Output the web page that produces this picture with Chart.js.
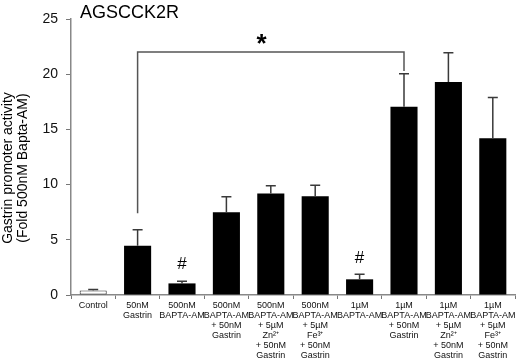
<!DOCTYPE html>
<html>
<head>
<meta charset="utf-8">
<script src="https://cdn.jsdelivr.net/npm/chart.js@4"></script>
<style>
html,body{margin:0;padding:0;background:#fff;}
#wrap{width:520px;height:361px;}
</style>
</head>
<body>
<div id="wrap"><canvas id="c" width="520" height="361"></canvas></div>
<script>
const categories = [
  ['Control'],
  ['50nM','Gastrin'],
  ['500nM','BAPTA-AM'],
  ['500nM','BAPTA-AM','+ 50nM','Gastrin'],
  ['500nM','BAPTA-AM','+ 5\u00b5M','Zn\u00b2\u207a','+ 50nM','Gastrin'],
  ['500nM','BAPTA-AM','+ 5\u00b5M','Fe\u00b3\u207a','+ 50nM','Gastrin'],
  ['1\u00b5M','BAPTA-AM'],
  ['1\u00b5M','BAPTA-AM','+ 50nM','Gastrin'],
  ['1\u00b5M','BAPTA-AM','+ 5\u00b5M','Zn\u00b2\u207a','+ 50nM','Gastrin'],
  ['1\u00b5M','BAPTA-AM','+ 5\u00b5M','Fe\u00b3\u207a','+ 50nM','Gastrin']
];
const means  = [0.4, 4.47, 1.05, 7.5, 9.2, 8.95, 1.42, 17.05, 19.3, 14.2];
const errors = [0.1, 1.43, 0.2, 1.4, 0.7, 1.0, 0.45, 3.0, 2.65, 3.7];
const yTicks = [0, 5, 10, 15, 20, 25];
const hashMarks = [{index: 2, value: 2.8}, {index: 6, value: 3.35}];
const bracket = {from: 1, to: 7, level: 22, leftEnd: 7.4, rightEnd: 20.3, starValue: 22.8};
const chartTitle = 'AGSCCK2R';
const yTitle = ['Gastrin promoter activity', '(Fold 500nM Bapta-AM)'];

const FONT = 'Liberation Sans, Arial, sans-serif';

const overlay = {
  id: 'overlay',
  afterDatasetsDraw(chart) {
    const ctx = chart.ctx;
    const y = chart.scales.y;
    const meta = chart.getDatasetMeta(0);
    ctx.save();
    // error bars
    ctx.strokeStyle = '#3a3a3a';
    ctx.lineWidth = 1.5;
    means.forEach((m, i) => {
      const cx = meta.data[i].x;
      const b = y.getPixelForValue(m);
      const t = y.getPixelForValue(m + errors[i]);
      ctx.beginPath();
      ctx.moveTo(cx, b); ctx.lineTo(cx, t);
      ctx.moveTo(cx - 5, t); ctx.lineTo(cx + 5, t);
      ctx.stroke();
    });
    // bracket
    const x1 = meta.data[bracket.from].x, x2 = meta.data[bracket.to].x;
    const yl = y.getPixelForValue(bracket.level);
    ctx.strokeStyle = '#555';
    ctx.lineWidth = 1.5;
    ctx.beginPath();
    ctx.moveTo(x1, y.getPixelForValue(bracket.leftEnd));
    ctx.lineTo(x1, yl);
    ctx.lineTo(x2, yl);
    ctx.lineTo(x2, y.getPixelForValue(bracket.rightEnd));
    ctx.stroke();
    // asterisk
    ctx.fillStyle = '#000';
    ctx.font = 'bold 26px ' + FONT;
    ctx.textAlign = 'center';
    ctx.textBaseline = 'middle';
    ctx.fillText('*', x1 + (x2 - x1) * 0.465, y.getPixelForValue(bracket.starValue) + 2);
    // hash marks
    ctx.font = '17px ' + FONT;
    hashMarks.forEach(h => {
      ctx.fillText('#', meta.data[h.index].x, y.getPixelForValue(h.value));
    });
    // title
    ctx.font = '18px ' + FONT;
    ctx.textAlign = 'left';
    ctx.textBaseline = 'alphabetic';
    ctx.fillText(chartTitle, 80, 18);
    // y title
    ctx.font = '14px ' + FONT;
    ctx.textAlign = 'center';
    ctx.textBaseline = 'middle';
    ctx.translate(8, 168);
    ctx.rotate(-Math.PI / 2);
    ctx.fillText(yTitle[0], 0, 0);
    ctx.fillText(yTitle[1], 0, 15);
    ctx.restore();
  }
};

new Chart(document.getElementById('c'), {
  type: 'bar',
  data: {
    labels: categories,
    datasets: [{
      data: means,
      backgroundColor: means.map((v, i) => i === 0 ? '#ffffff' : '#000000'),
      borderColor: '#333',
      borderWidth: means.map((v, i) => i === 0 ? 1 : 0),
      borderSkipped: false,
      barPercentage: 0.61,
      categoryPercentage: 1.0
    }]
  },
  options: {
    responsive: false,
    animation: false,
    devicePixelRatio: 1,
    layout: {padding: {top: 19, right: 5, left: 0, bottom: 0}},
    plugins: {legend: {display: false}, tooltip: {enabled: false}, title: {display: false}},
    scales: {
      x: {
        grid: {display: true, drawOnChartArea: false, drawTicks: true, tickLength: 4, color: '#777', lineWidth: 1},
        border: {display: true, color: '#888', width: 1.5},
        ticks: {
          color: '#111', font: {family: FONT, size: 9, lineHeight: 1.1},
          maxRotation: 0, minRotation: 0, autoSkip: false, padding: 2
        },
        afterFit(scale) { scale.height = 66; }
      },
      y: {
        min: 0, max: 25,
        grid: {display: true, drawOnChartArea: false, drawTicks: true, tickLength: 5, color: '#777'},
        border: {display: true, color: '#888', width: 1.5},
        afterBuildTicks(scale) { scale.ticks = yTicks.map(v => ({value: v})); },
        ticks: {color: '#111', font: {family: FONT, size: 14}, padding: 8},
        afterFit(scale) { scale.width = 71; }
      }
    }
  },
  plugins: [overlay]
});
</script>
</body>
</html>
